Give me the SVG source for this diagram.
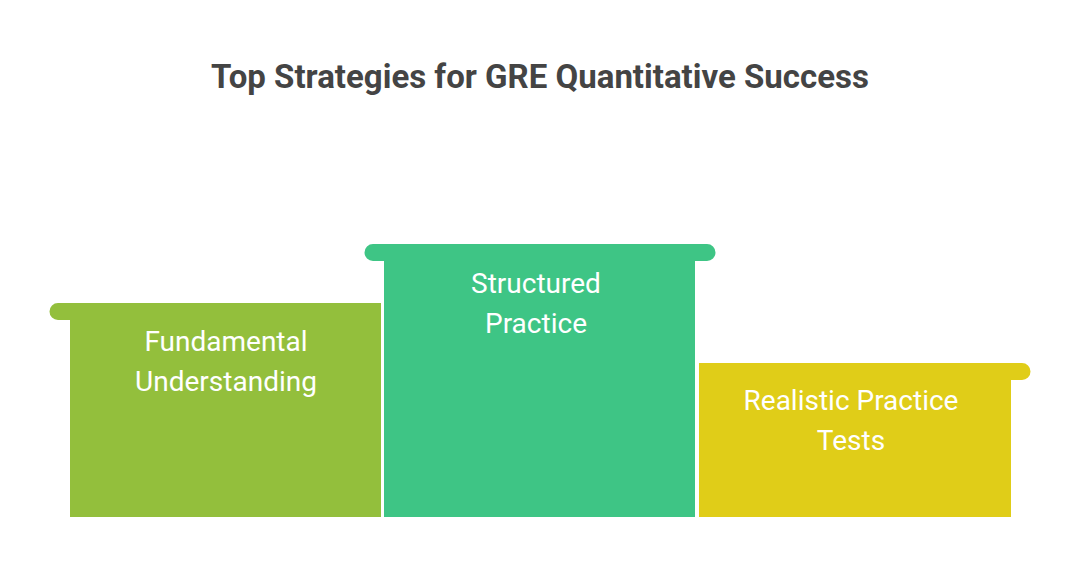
<svg xmlns="http://www.w3.org/2000/svg" width="1080" height="565" viewBox="0 0 1080 565">
<style>
.t{font-family:Roboto,"Liberation Sans",sans-serif;fill:#fff;font-size:28px;text-anchor:middle}
</style>
<rect width="1080" height="565" fill="#fff"/>
<text x="540" y="88" font-family="Roboto,'Liberation Sans',sans-serif" font-weight="bold" font-size="33" fill="#444" text-anchor="middle">Top Strategies for GRE Quantitative Success</text>
<g id="fundamental" fill="#93BF3C">
<path d="M58,303 H381 V517 H70 V320 H58 A8.5,8.5 0 0 1 58,303 Z"/>
<text class="t" x="226" y="351">Fundamental</text>
<text class="t" x="226" y="391">Understanding</text>
</g>
<g id="structured" fill="#3EC585">
<path d="M373,244 H707 A8.5,8.5 0 0 1 707,261 H695 V517 H384 V261 H373 A8.5,8.5 0 0 1 373,244 Z"/>
<text class="t" x="536" y="293">Structured</text>
<text class="t" x="536" y="333">Practice</text>
</g>
<g id="realistic" fill="#E0CD18">
<path d="M699,363 H1022 A8.5,8.5 0 0 1 1022,380 H1011 V517 H699 Z"/>
<text class="t" x="851" y="410">Realistic Practice</text>
<text class="t" x="851" y="450">Tests</text>
</g>
<g id="connectors"/>
</svg>
